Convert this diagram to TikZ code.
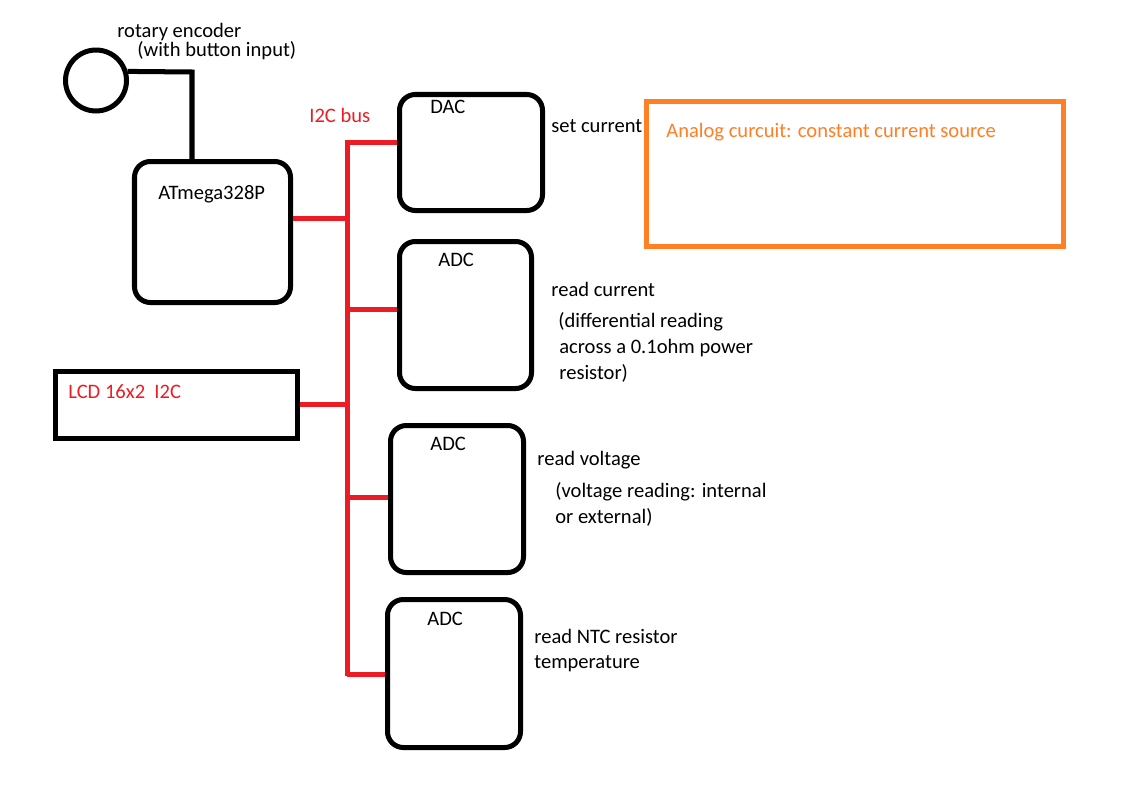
\documentclass[tikz,border=0pt]{standalone}
\usepackage{fontspec}
\setmainfont{Carlito}
\usetikzlibrary{fit}
\definecolor{pred}{RGB}{237,28,36}
\definecolor{porange}{RGB}{255,127,39}
\begin{document}
\begin{tikzpicture}[x=0.02cm,y=-0.02cm,
  rbox/.style={draw=black, line width=2.85pt, rounded corners=9pt, inner sep=0pt},
  sqbox/.style={draw=black, line width=2.85pt, inner sep=0pt},
  obox/.style={draw=porange, line width=2.85pt, inner sep=0pt},
  wire/.style={draw=black, line width=2.85pt},
  bus/.style={draw=pred, line width=2.85pt},
  lbl/.style={anchor=base west, font=\fontsize{11.7}{13}\selectfont, inner sep=0pt, text=black},
  rlbl/.style={lbl, text=pred},
  olbl/.style={lbl, text=porange}]
\useasboundingbox[fill=white] (0,0) rectangle (1142,798);

% boxes
\node[circle, draw=black, line width=2.85pt, minimum size=1.22cm, inner sep=0pt] (enc) at (96,80.5) {};
\node[rbox, fit={(134.5,161.5) (290.5,302.5)}] (mcu) {};
\node[rbox, fit={(399.5,94.5) (542.5,210.5)}] (dac) {};
\node[rbox, fit={(399.5,241.5) (531.5,388.5)}] (adc1) {};
\node[rbox, fit={(390.5,425.5) (523.5,572.5)}] (adc2) {};
\node[rbox, fit={(387.5,599.5) (520.5,747.5)}] (adc3) {};
\node[sqbox, fit={(55.5,371.5) (297.5,438.5)}] (lcd) {};
\node[obox, fit={(646.5,101.5) (1063.5,246.5)}] (analog) {};

% encoder wire
\coordinate (k) at (192,72);
\draw[wire] (enc.16) -- (k) -- (k |- mcu.north);

% I2C bus
\coordinate (b1) at (347,142);
\coordinate (b2) at (347,218);
\coordinate (b3) at (347,309);
\coordinate (b4) at (347,404);
\coordinate (b5) at (347,497);
\coordinate (b6) at (347,676);
\draw[bus] (b6) -- (b1) -- (b1 -| dac.west);
\draw[bus] (mcu.east |- b2) -- (b2);
\draw[bus] (b3) -- (b3 -| adc1.west);
\draw[bus] (lcd.east |- b4) -- (b4);
\draw[bus] (b5) -- (b5 -| adc2.west);
\draw[bus] (b6 |- 0,674) -- (adc3.west |- 0,674);

% labels
\node[lbl] (t1) at (117,37) {rotary encoder};
\node[lbl] (t2) at (137,56) {(with button input)};
\node[lbl] (t3) at (158,199) {ATmega328P};
\node[rlbl] (t4) at (309,122) {I2C bus};
\node[lbl] (t5) at (430,113) {DAC};
\node[lbl] (t6) at (551,132) {set current};
\node[olbl] (t7) at (666,137) {Analog curcuit: constant current source};
\node[lbl] (t8) at (438,266) {ADC};
\node[lbl] (t9) at (551,296) {read current};
\node[lbl] (t10) at (558,327) {(differential reading};
\node[lbl] (t11) at (559,353) {across a 0.1ohm power};
\node[lbl] (t12) at (559,379) {resistor)};
\node[rlbl] (t13) at (68,398) {LCD 16x2\ \ I2C};
\node[lbl] (t14) at (430,450) {ADC};
\node[lbl] (t15) at (537,465) {read voltage};
\node[lbl] (t16) at (555,497) {(voltage reading: internal};
\node[lbl] (t17) at (555,523) {or external)};
\node[lbl] (t18) at (427,625) {ADC};
\node[lbl] (t19) at (534,643) {read NTC resistor};
\node[lbl] (t20) at (534,668) {temperature};
\end{tikzpicture}
\end{document}
